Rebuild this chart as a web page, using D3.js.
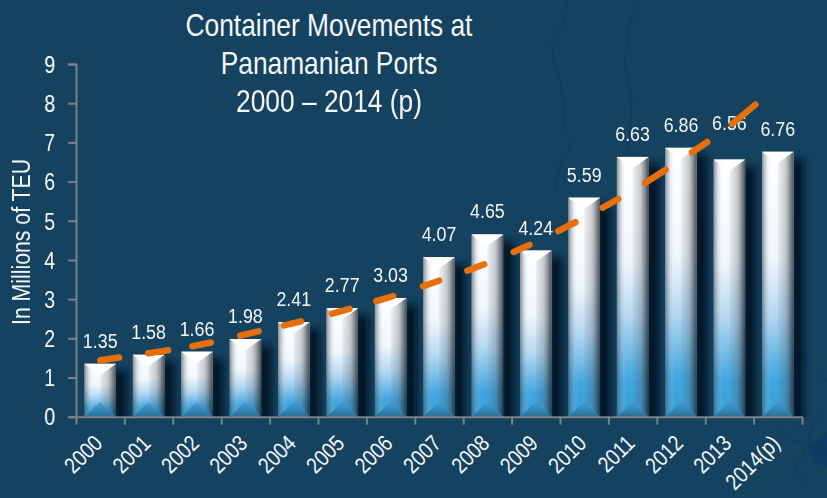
<!DOCTYPE html>
<html>
<head>
<meta charset="utf-8">
<script src="https://cdn.jsdelivr.net/npm/d3@7"></script>
<style>
  html, body { margin: 0; padding: 0; background: #14425f; }
  svg { display: block; }
  text { font-family: "Liberation Sans", Arial, sans-serif; fill: #f4f7f9; }
</style>
</head>
<body>
<script>
const years = ['2000', '2001', '2002', '2003', '2004', '2005', '2006', '2007', '2008', '2009', '2010', '2011', '2012', '2013', '2014(p)'];
const teu = [1.35, 1.58, 1.66, 1.98, 2.41, 2.77, 3.03, 4.07, 4.65, 4.24, 5.59, 6.63, 6.86, 6.56, 6.76];
const yTicks = [0, 1, 2, 3, 4, 5, 6, 7, 8, 9];
const titleLines = ['Container Movements at', 'Panamanian Ports', '2000 – 2014 (p)'];
const yLabel = 'In Millions of TEU';
const raisedLabels = ['2013']; // this value label sits higher than the others in the source

// trend line: category position and value
const trendPos = [0, 1, 2, 3, 4, 5, 6, 7, 8, 9, 10, 11, 12, 13, 13.63];
const trendVal = [1.44, 1.62, 1.82, 2.10, 2.39, 2.70, 3.06, 3.47, 3.92, 4.46, 5.08, 5.77, 6.56, 7.42, 8.06];

// the dashes in the source are hand placed, so their lengths are not even
const dashLengths = [19, 20, 19, 19, 17.5, 18, 17.5, 17, 18, 17.3, 19.5, 17.7, 24.5, 18.5, 30.5];
const dashPeriods = [48.5, 44.7, 49, 45, 49.5, 46, 49, 47, 50, 49, 50.5, 49, 56, 49, 60];

const width = 827, height = 498;
const plotLeft = 76, plotRight = 802, plotTop = 64, plotBottom = 416.7;
const squeeze = 0.85; // the source type is a narrowed Arial

const svg = d3.select('body').append('svg').
    attr('width', width).
    attr('height', height);

const defs = svg.append('defs');

const addGradient = (id, horizontal, stops) => {
    const g = defs.append('linearGradient').
        attr('id', id).
        attr('x1', 0).attr('y1', 0).
        attr('x2', horizontal ? 1 : 0).attr('y2', horizontal ? 0 : 1);
    stops.forEach(s => g.append('stop').
        attr('offset', s[0]).
        attr('stop-color', s[1]).
        attr('stop-opacity', s[2] === undefined ? 1 : s[2]));
};

addGradient('barBase', false, [[0, '#ffffff'], [0.4, '#f0f7fc'], [0.62, '#b3d7f2'], [0.86, '#3fa6e0'], [1, '#3a9fda']]);
addGradient('barLeft', true, [[0, '#3c4650', 0.6], [0.3, '#7a8690', 0.2], [0.6, '#ffffff', 0], [1, '#ffffff', 0]]);
addGradient('barRight', true, [[0, '#5c6670', 0.08], [0.5, '#4c5660', 0.3], [1, '#1c232c', 0.8]]);
addGradient('barFoot', false, [[0, '#3f98cc', 0.6], [1, '#2a6d95', 1]]);

defs.append('filter').
    attr('id', 'barShadow').
    attr('x', '-60%').attr('width', '220%').
    attr('y', '-10%').attr('height', '120%').
    append('feGaussianBlur').attr('stdDeviation', 3.5);

defs.append('clipPath').attr('id', 'plotClip').
    append('rect').
    attr('x', 0).attr('y', 0).
    attr('width', width).attr('height', plotBottom);

svg.append('rect').
    attr('width', width).
    attr('height', height).
    attr('fill', '#14425f');

// faint map behind the chart
const mapLines = [
    'M568 0L562 25L552 40L553 60L560 80L565 110L563 130L572 143L560 165L555 190',
    'M637 5L628 30L629 45L624 60L628 80L632 100L630 130L628 150',
    'M775 425L790 440L805 445L827 450',
    'M795 432L803 420L801 410',
    'M808 445L812 425L822 412',
    'M805 450L795 470L805 482',
    'M812 370L812 362M803 357L815 372L827 380'
];
svg.append('g').
    selectAll('path').
    data(mapLines).
    enter().append('path').
    attr('d', d => d).
    attr('fill', 'none').
    attr('stroke', '#0f3b68').
    attr('stroke-width', 1.6).
    attr('opacity', 0.6);

svg.append('path').
    attr('d', 'M808 450L818 438L827 432L827 468L816 462Z').
    attr('fill', '#0b3a68').
    attr('opacity', 0.7);

const x = d3.scaleBand().
    domain(years).
    range([plotLeft, plotRight]).
    paddingInner(0.35).
    paddingOuter(0.175);

const xEdges = d3.scaleLinear().
    domain([0, years.length]).
    range([plotLeft, plotRight]);

const xPos = d3.scaleLinear().
    domain([0, years.length - 1]).
    range([x(years[0]) + x.bandwidth() / 2, x(years[years.length - 1]) + x.bandwidth() / 2]);

const y = d3.scaleLinear().
    domain([0, 9]).
    range([plotBottom, plotTop]);

const rows = years.map((year, i) => ({ year, value: teu[i] }));

// shadows first so that no bar is covered by its neighbour's
svg.append('g').
    attr('clip-path', 'url(#plotClip)').
    append('g').
    attr('filter', 'url(#barShadow)').
    selectAll('rect').
    data(rows).
    enter().append('rect').
    attr('x', d => x(d.year) + x.bandwidth() - 2).
    attr('y', d => y(d.value) + 7).
    attr('width', 12).
    attr('height', d => plotBottom - y(d.value) + 5).
    attr('fill', '#04121c').
    attr('opacity', 0.9);

const face = (pts) => pts.map(p => p.join(',')).join(' ');
const rise = 11, footRise = 15;

const bar = svg.append('g').
    selectAll('g').
    data(rows).
    enter().append('g');

bar.append('rect').
    attr('x', d => x(d.year)).
    attr('y', d => y(d.value)).
    attr('width', x.bandwidth()).
    attr('height', d => plotBottom - y(d.value)).
    attr('fill', 'url(#barBase)');

bar.append('polygon').
    attr('points', d => {
        const x0 = x(d.year), c = x0 + x.bandwidth() / 2, t = y(d.value);
        return face([[x0, t], [c, t + rise], [c, plotBottom - footRise], [x0, plotBottom]]);
    }).
    attr('fill', 'url(#barLeft)');

bar.append('polygon').
    attr('points', d => {
        const x0 = x(d.year), c = x0 + x.bandwidth() / 2, x1 = x0 + x.bandwidth(), t = y(d.value);
        return face([[c, t + rise], [x1, t], [x1, plotBottom], [c, plotBottom - footRise]]);
    }).
    attr('fill', 'url(#barRight)');

bar.append('polygon').
    attr('points', d => {
        const x0 = x(d.year), c = x0 + x.bandwidth() / 2, x1 = x0 + x.bandwidth(), t = y(d.value);
        return face([[x0, t], [x1, t], [c, t + rise]]);
    }).
    attr('fill', '#ffffff');

bar.append('polygon').
    attr('points', d => {
        const x0 = x(d.year), c = x0 + x.bandwidth() / 2, x1 = x0 + x.bandwidth();
        return face([[x0, plotBottom], [c, plotBottom - footRise], [x1, plotBottom]]);
    }).
    attr('fill', 'url(#barFoot)');

// axes
const yAxis = svg.append('g').
    attr('transform', `translate(${plotLeft},0)`).
    call(d3.axisLeft(y).tickValues(yTicks).tickSize(8).tickSizeOuter(8).tickPadding(7));

yAxis.selectAll('text').
    attr('x', -21 / squeeze).
    attr('dy', '0.36em').
    attr('transform', `scale(${squeeze},1)`).
    style('font-size', '23px');

const xTicks = svg.append('g').
    attr('transform', `translate(0,${plotBottom})`).
    call(d3.axisBottom(xEdges).tickValues(d3.range(years.length + 1)).tickSize(8).tickSizeOuter(0).tickFormat(''));

[yAxis, xTicks].forEach(a => {
    a.attr('font-family', null).attr('font-size', null);
    a.selectAll('path, line').attr('stroke', '#808080').attr('stroke-width', 2);
});

const xLabels = svg.append('g').
    attr('transform', `translate(0,${plotBottom})`).
    call(d3.axisBottom(x).tickSize(0).tickPadding(0));

xLabels.attr('font-family', null).attr('font-size', null);
xLabels.select('.domain').remove();
xLabels.selectAll('text').
    attr('x', 0).
    attr('y', 0).
    attr('dy', 0).
    attr('text-anchor', 'end').
    attr('transform', `translate(3.5,28) rotate(-45) scale(${squeeze},1)`).
    style('font-size', '22.5px');

// value labels
svg.append('g').
    selectAll('text').
    data(rows).
    enter().append('text').
    attr('text-anchor', 'middle').
    attr('transform', d => {
        const lift = raisedLabels.includes(d.year) ? 30 : 16;
        return `translate(${x(d.year) + x.bandwidth() / 2},${y(d.value) - lift}) scale(${squeeze},1)`;
    }).
    style('font-size', '21px').
    text(d => d.value.toFixed(2));

// trend line goes over the labels
const trend = d3.line().
    x(d => xPos(d[0])).
    y(d => y(d[1])).
    curve(d3.curveMonotoneX);

svg.append('path').
    attr('d', trend(trendPos.map((p, i) => [p, trendVal[i]]))).
    attr('fill', 'none').
    attr('stroke', '#e76f0a').
    attr('stroke-width', 6.5).
    attr('stroke-linecap', 'round').
    attr('stroke-dasharray', dashLengths.map((d, i) => `${d} ${dashPeriods[i] - d}`).join(' '));

// titles
svg.append('g').
    selectAll('text').
    data(titleLines).
    enter().append('text').
    attr('text-anchor', 'middle').
    attr('transform', (d, i) => `translate(329,${36 + i * 38}) scale(${squeeze},1)`).
    style('font-size', '31px').
    text(d => d);

svg.append('text').
    attr('text-anchor', 'middle').
    attr('transform', `translate(30,242) rotate(-90) scale(${squeeze},1)`).
    style('font-size', '25px').
    text(yLabel);
</script>
</body>
</html>
